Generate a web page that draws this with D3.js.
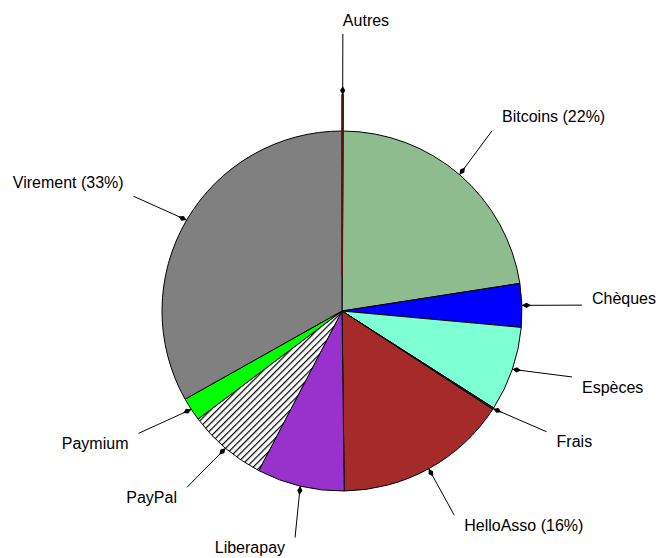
<!DOCTYPE html>
<html>
<head>
<meta charset="utf-8">
<script src="https://cdn.jsdelivr.net/npm/d3@7"></script>
<style>
  body { margin: 0; background: #fff; }
  svg text { font-family: "Liberation Sans", Arial, sans-serif; font-size: 16px; fill: #000; }
</style>
</head>
<body>
<svg id="chart" width="657" height="558"></svg>
<script>
// Dons par moyen de paiement (parts en %)
const categories = ["Autres", "Bitcoins", "Chèques", "Espèces", "Frais", "HelloAsso", "Liberapay", "PayPal", "Paymium", "Virement"];
const values = [0.1, 22.45, 3.9, 7.6, 0.15, 15.6, 7.85, 7.1, 2.1, 33.15];
const colors = ["#5c1010", "#8fbc8f", "#0000ff", "#7fffd4", "#222222", "#a52a2a", "#9932cc", "hatch", "#00ff00", "#808080"];
const exploded = ["Autres"];

const chart = {
    cx: 342,
    cy: 311,
    r: 180,
    explode: 36,
    // label line ends sit on an ellipse round the pie
    labelRx: 240,
    labelRy: 231,
    // small angle shifts (deg) so labels don't crowd, and extra radius
    labelNudge: { "Bitcoins": -1, "Chèques": 0.4, "Espèces": -2.9, "Frais": -2.3, "Liberapay": -1.7, "PayPal": 1, "Paymium": 2.1, "Virement": -1.5 },
    labelExtra: { "Autres": 10 }
};

const svg = d3.select("#chart");

// hatch pattern for PayPal
const defs = svg.append("defs");
const pat = defs.append("pattern")
    .attr("id", "hatch")
    .attr("patternUnits", "userSpaceOnUse")
    .attr("width", 4.7)
    .attr("height", 4.7)
    .attr("patternTransform", "rotate(45)");
pat.append("rect").attr("width", 4.7).attr("height", 4.7).attr("fill", "#fff");
pat.append("line")
    .attr("x1", 0.6).attr("y1", 0).attr("x2", 0.6).attr("y2", 4.7)
    .attr("stroke", "#000").attr("stroke-width", 1.2);

const total = d3.sum(values);
const data = categories.map((c, i) => ({ name: c, value: values[i], color: colors[i] }));

const pie = d3.pie().sort(null).value(d => d.value);
const arcs = pie(data);
const arc = d3.arc().innerRadius(0).outerRadius(chart.r);

const g = svg.append("g").attr("transform", `translate(${chart.cx},${chart.cy})`);

// offset of a slice's center (exploded slices move outward)
function shift(d) {
    const a = (d.startAngle + d.endAngle) / 2;
    const e = exploded.includes(d.data.name) ? chart.explode : 0;
    return [e * Math.sin(a), -e * Math.cos(a)];
}

g.selectAll("path.slice")
    .data(arcs)
    .join("path")
    .attr("class", "slice")
    .attr("transform", d => `translate(${shift(d)})`)
    .attr("d", arc)
    .attr("fill", d => d.data.color === "hatch" ? "url(#hatch)" : d.data.color)
    .attr("stroke", "#000")
    .attr("stroke-width", 1)
    .attr("stroke-linejoin", "round");

// draw exploded ones again on top
g.selectAll("path.top")
    .data(arcs.filter(d => exploded.includes(d.data.name)))
    .join("path")
    .attr("class", "top")
    .attr("transform", d => `translate(${shift(d)})`)
    .attr("d", arc)
    .attr("fill", d => d.data.color)
    .attr("stroke", d => d.data.color)
    .attr("stroke-width", 1.6);

// leader lines, diamonds and labels
const labels = g.selectAll("g.lab")
    .data(arcs)
    .join("g")
    .attr("class", "lab");

labels.each(function(d) {
    const a = (d.startAngle + d.endAngle) / 2;
    const [sx, sy] = shift(d);
    const s = Math.sin(a), c = -Math.cos(a);
    const x0 = sx + s * chart.r, y0 = sy + c * chart.r;

    const la = a + (chart.labelNudge[d.data.name] || 0) * Math.PI / 180;
    const ls = Math.sin(la), lc = -Math.cos(la);
    const re = 1 / Math.sqrt(ls * ls / (chart.labelRx * chart.labelRx) + lc * lc / (chart.labelRy * chart.labelRy))
        + (chart.labelExtra[d.data.name] || 0);
    const x1 = sx + ls * re, y1 = sy + lc * re;

    const sel = d3.select(this);
    sel.append("line")
        .attr("x1", x0).attr("y1", y0).attr("x2", x1).attr("y2", y1)
        .attr("stroke", "#000").attr("stroke-width", 1);
    // diamond pointing along the line
    const deg = Math.atan2(x1 - x0, -(y1 - y0)) * 180 / Math.PI;
    sel.append("path")
        .attr("d", "M0,0 L-2.6,-4.5 L0,-9 L2.6,-4.5 Z")
        .attr("transform", `translate(${x0},${y0}) rotate(${deg})`)
        .attr("fill", "#000");

    const pct = d.data.value / total * 100;
    const txt = d.data.name + (pct >= 10 ? ` (${Math.round(pct)}%)` : "");
    const up = -lc;
    const dx = ls > 0.02 ? 10 : (ls < -0.02 ? -10 : 0);
    const dy = up > 0.2 ? -14 : (up > -0.1 ? -7 : 10);
    sel.append("text")
        .attr("x", x1 + dx)
        .attr("y", y1 + dy)
        .attr("dy", "0.35em")
        .attr("text-anchor", ls < -0.02 ? "end" : "start")
        .text(txt);
});
</script>
</body>
</html>
